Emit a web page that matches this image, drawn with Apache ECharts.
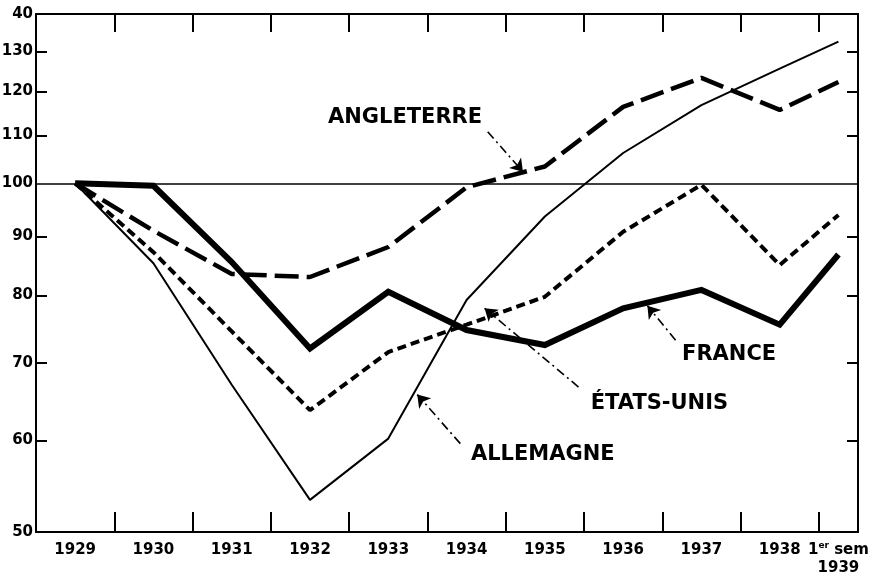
<!DOCTYPE html>
<html>
<head>
<meta charset="utf-8">
<script src="https://cdn.jsdelivr.net/npm/echarts@6/dist/echarts.min.js"></script>
<style>html,body{margin:0;padding:0;background:#fff}#c{width:883px;height:578px}</style>
</head>
<body>
<div id="c"></div>
<script>
// ---- data ----
const categories = ['1929','1930','1931','1932','1933','1934','1935','1936','1937','1938','1er sem 1939'];
const years = [1929,1930,1931,1932,1933,1934,1935,1936,1937,1938,1938.75];
const france     = [100, 99.5, 85.5, 72.0, 80.6, 74.7, 72.5, 78.0, 80.9, 75.5, 86.8];
const angleterre = [100, 91.0, 83.5, 83.0, 88.1, 99.2, 103.4, 116.4, 123.3, 115.7, 122.3];
const etatsUnis  = [100, 87.2, 74.5, 63.7, 71.5, 75.5, 79.8, 90.8, 99.7, 85.0, 93.9];
const allemagne  = [100, 85.3, 67.0, 53.3, 60.2, 79.3, 93.6, 106.2, 116.8, 125.6, 132.5];
const yTickValues = [50,60,70,80,90,100,110,120,130,140];
const yTickLabels = ['50','60','70','80','90','100','110','120','130','40'];
const xTickBounds = [1929.5,1930.5,1931.5,1932.5,1933.5,1934.5,1935.5,1936.5,1937.5,1938.5];
const baseline = 100;
// annotations: [text, textYear, textValue, arrowFromYear, arrowFromValue, arrowToYear, arrowToValue]
const annotations = [
  ['ANGLETERRE', 1933.22, 113.9, 1934.27, 110.8, 1934.72, 102.3],
  ['FRANCE',     1937.36, 71.1, 1936.67, 73.2, 1936.31, 78.4],
  ['ÉTATS-UNIS', 1936.47, 64.5, 1935.43, 66.7, 1934.23, 78.0],
  ['ALLEMAGNE',  1934.98, 58.3, 1933.92, 59.6, 1933.37, 65.7]
];

const L = v => Math.log10(v);
const pts = arr => arr.map((v, i) => [years[i], L(v)]);
const FONT = '"DejaVu Sans", sans-serif';

const chart = echarts.init(document.getElementById('c'), null, {renderer: 'canvas'});

const xAxisBase = {
  type: 'value', min: 1928.5, max: 1939,
  splitLine: {show: false},
  axisLine: {show: true, onZero: false, lineStyle: {color: '#000', width: 2}},
  axisTick: {show: true, inside: true, length: 20, customValues: xTickBounds, lineStyle: {color: '#000', width: 2}}
};
const yAxisBase = {
  type: 'value', min: L(50), max: L(140),
  splitLine: {show: false},
  axisLine: {show: true, onZero: false, lineStyle: {color: '#000', width: 2}},
  axisTick: {show: true, inside: true, length: 11, customValues: yTickValues.slice(1, -1).filter(v => v !== 100).map(L), lineStyle: {color: '#000', width: 2}}
};

const option = {
  animation: false,
  backgroundColor: '#fff',
  grid: {left: 36, right: 25, top: 14, bottom: 46, containLabel: false, outerBoundsMode: 'none'},
  xAxis: [
    Object.assign({}, xAxisBase, {
      position: 'bottom',
      axisLabel: {
        show: true, margin: 9,
        customValues: years,
        color: '#000', fontFamily: FONT, fontWeight: 'bold', fontSize: 15, lineHeight: 18,
        formatter: (v) => {
          let best = 0;
          years.forEach((y, i) => { if (Math.abs(y - v) < Math.abs(years[best] - v)) best = i; });
          const t = categories[best];
          if (t.startsWith('1er')) return '{n|1}{s|er}{n| sem}\n{n|1939}';
          return '{n|' + t + '}';
        },
        rich: {
          n: {fontFamily: FONT, fontWeight: 'bold', fontSize: 15, color: '#000', lineHeight: 18},
          s: {fontFamily: FONT, fontWeight: 'bold', fontSize: 9, color: '#000', verticalAlign: 'top', lineHeight: 18}
        }
      }
    }),
    Object.assign({}, xAxisBase, {
      position: 'top',
      axisTick: Object.assign({}, xAxisBase.axisTick, {length: 18}),
      axisLabel: {show: false}
    })
  ],
  yAxis: [
    Object.assign({}, yAxisBase, {
      position: 'left',
      axisLabel: {
        show: true, margin: 3,
        customValues: yTickValues.map(L),
        color: '#000', fontFamily: FONT, fontWeight: 'bold', fontSize: 15,
        formatter: (v) => {
          let best = 0;
          yTickValues.forEach((y, i) => { if (Math.abs(L(y) - v) < Math.abs(L(yTickValues[best]) - v)) best = i; });
          return yTickLabels[best];
        }
      }
    }),
    Object.assign({}, yAxisBase, {position: 'right', axisLabel: {show: false}})
  ],
  series: [
    {
      name: 'Allemagne', type: 'line', data: pts(allemagne), symbol: 'none',
      lineStyle: {color: '#000', width: 2},
      markLine: {
        silent: true, symbol: ['none', 'none'],
        label: {show: false},
        lineStyle: {color: '#000', width: 1.6, type: 'solid'},
        data: [{yAxis: L(baseline)}]
      }
    },
    {
      name: 'États-Unis', type: 'line', data: pts(etatsUnis), symbol: 'none',
      lineStyle: {color: '#000', width: 4, type: [9, 5]}
    },
    {
      name: 'Angleterre', type: 'line', data: pts(angleterre), symbol: 'none',
      lineStyle: {color: '#000', width: 4.5, type: [24, 8]}
    },
    {
      name: 'France', type: 'line', data: pts(france), symbol: 'none',
      lineStyle: {color: '#000', width: 6, join: 'miter'},
      markLine: {
        silent: true, symbol: ['none', 'arrow'], symbolSize: 12,
        label: {show: false},
        itemStyle: {color: '#000'},
        lineStyle: {color: '#000', width: 1.6, type: [9, 4, 2, 4]},
        data: annotations.map(a => [{coord: [a[3], L(a[4])]}, {coord: [a[5], L(a[6])]}])
      }
    },
    {
      name: 'annotations', type: 'scatter', symbolSize: 1, silent: true,
      itemStyle: {color: 'rgba(0,0,0,0)'},
      data: annotations.map(a => ({value: [a[1], L(a[2])]})),
      label: {
        show: true, position: [0, 0], align: 'center', verticalAlign: 'middle',
        color: '#000', opacity: 1,
        fontFamily: FONT, fontWeight: 'bold', fontSize: 21,
        formatter: p => annotations[p.dataIndex][0]
      }
    }
  ]
};
chart.setOption(option);
</script>
</body>
</html>
